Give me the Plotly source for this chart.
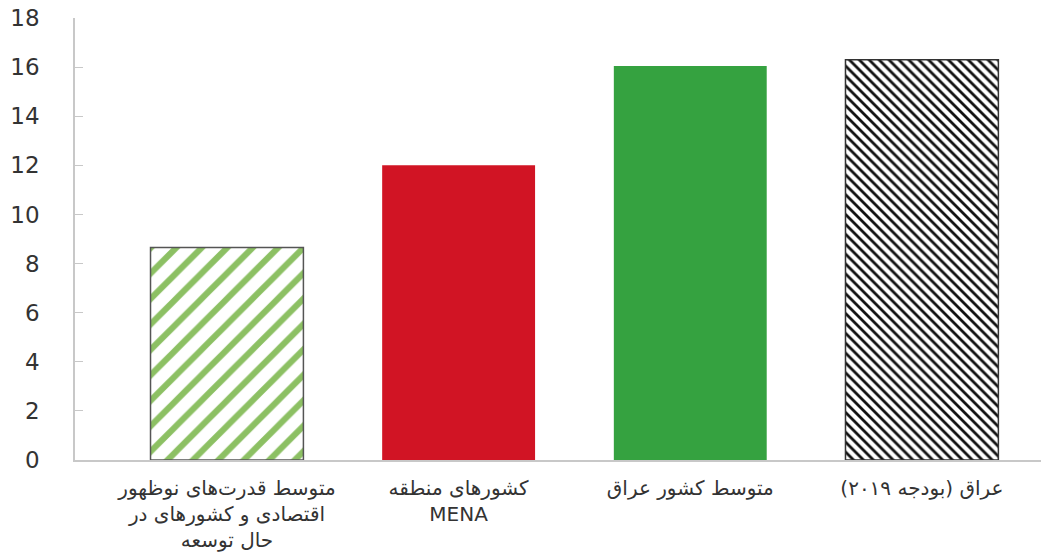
import plotly.graph_objects as go

categories = [
    "متوسط قدرت‌های نوظهور<br>اقتصادی و کشورهای در<br>حال توسعه",
    "کشورهای منطقه<br>MENA",
    "متوسط کشور عراق",
    "عراق (بودجه ۲۰۱۹)",
]
values = [8.65, 12.0, 16.05, 16.3]
tick_vals = list(range(0, 19, 2))

fill_colors = ["#ffffff", "#d11424", "#35a240", "#ffffff"]
pattern_shapes = ["/", "", "", "\\"]
pattern_fg = ["#8cc063", "#d11424", "#35a240", "#111111"]
pattern_sizes = [18, 8, 8, 7]
pattern_solidity = [0.34, 0.3, 0.3, 0.4]
line_colors = ["#555555", "#d11424", "#35a240", "#333333"]
line_widths = [1.5, 0, 0, 1.5]

fig = go.Figure()
for i in range(len(categories)):
    fig.add_trace(go.Bar(
        x=[i], y=[values[i]], width=0.66,
        marker=dict(
            color=fill_colors[i],
            line=dict(color=line_colors[i], width=line_widths[i]),
            pattern=dict(shape=pattern_shapes[i], fgcolor=pattern_fg[i],
                         bgcolor="#ffffff", fgopacity=1,
                         size=pattern_sizes[i], solidity=pattern_solidity[i],
                         fillmode="replace"),
        ),
    ))

fig.update_layout(
    width=1041, height=554,
    margin=dict(l=75, r=0, t=18, b=94),
    paper_bgcolor="white", plot_bgcolor="white",
    showlegend=False, barmode="overlay",
    font=dict(family="DejaVu Sans, sans-serif", color="#333333"),
)
fig.update_xaxes(
    tickmode="array", tickvals=list(range(len(categories))), ticktext=categories,
    range=[-0.656, 3.514], showgrid=False, zeroline=False, automargin=False,
    showline=True, linecolor="#c8c8c8", linewidth=1.5, ticks="",
    tickfont=dict(size=20, color="#333333"), ticklabelstandoff=9,
)
fig.update_yaxes(
    range=[0, 18], tickvals=tick_vals, showgrid=False, zeroline=False, automargin=False,
    showline=True, linecolor="#c8c8c8", linewidth=1.5,
    ticks="inside", ticklen=8, tickcolor="#c8c8c8",
    tickfont=dict(size=23, color="#333333"), ticklabelstandoff=29,
    ticklabeloverflow="allow",
)

fig.write_html("out.html", config={"displayModeBar": False},
               post_script="document.body.style.margin='0';")
